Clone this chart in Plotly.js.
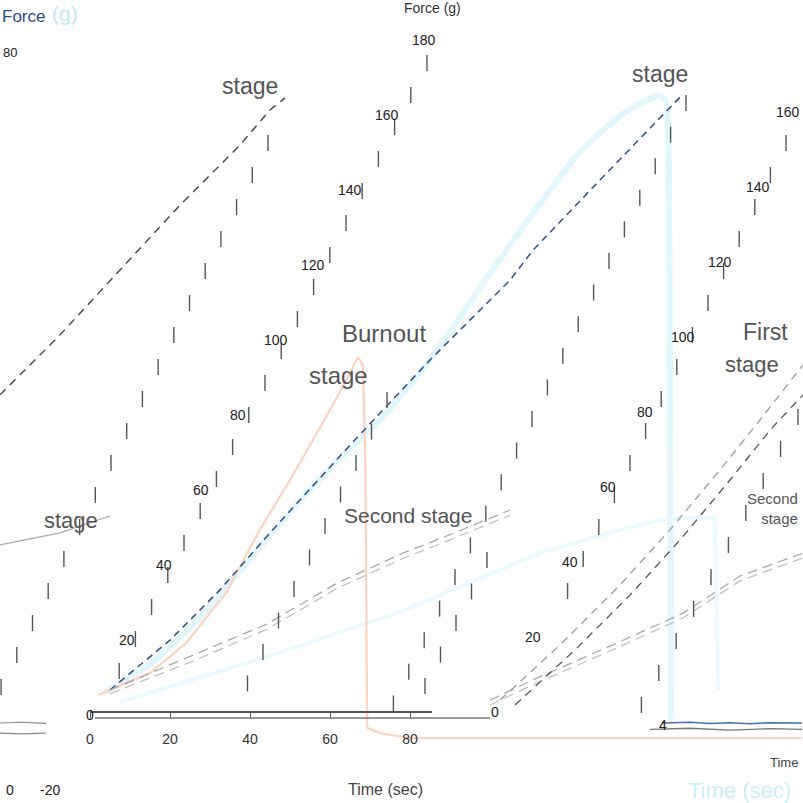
<!DOCTYPE html>
<html><head><meta charset="utf-8">
<script src="https://cdn.plot.ly/plotly-3.0.1.min.js"></script>
<style>html,body{margin:0;padding:0;background:#fff}#chart{width:803px;height:803px}</style>
</head><body><div id="chart"></div>
<script>
// ---- data (Time in sec, Force) ----
const burnoutTime  = [2, 5, 15, 24, 34, 42, 50, 57.5, 62.5, 67, 68.2, 68.8, 69, 69.3, 72.5, 80, 178];
const burnoutForce = [4.3, 5.6, 10.1, 18.1, 31.5, 47.5, 61.6, 75.5, 85.1, 94.4, 92.3, 69.6, 29.6, -4.5, -5.9, -7.2, -7.2];

const firstTime  = [3.75, 15, 27.5, 46.75, 60, 72.5, 85, 96.75, 111.25, 122.5, 132.5, 138.75, 142, 143.75, 144.5, 145, 145.25];
const firstForce = [5.1, 12.5, 24.8, 49.1, 64.8, 77.6, 93.6, 111.7, 133.6, 149.1, 158.7, 162.7, 164, 163.2, 156.3, 82.9, -2.4];

const firstDashTime  = [5, 20, 32.5, 45, 65, 85, 105, 110.75, 127.5, 140, 147.5];
const firstDashForce = [5.6, 18.9, 32.3, 47.5, 70.9, 93.6, 114.9, 122.9, 141.6, 155.5, 163.7];

const secondCyanTime  = [7.5, 45, 77.5, 112.5, 132.5, 145, 156.25, 157];
const secondCyanForce = [2.4, 14.7, 26.4, 42.1, 48.3, 51.5, 51.5, 5.6];

const secondATime  = [5, 13.25, 25.75, 44.25, 61.75, 78.25, 89.25, 105];
const secondAForce = [5.6, 9.3, 14.7, 23.2, 34.1, 42.1, 46.7, 53.6];
const secondBForce = [4.6, 8.0, 13.3, 21.8, 32.7, 40.7, 45.3, 52.2];

const secondRTime  = [100, 110.75, 130, 148.25, 162.5, 178.25];
const secondRForce = [2.9, 8.3, 17.3, 26.1, 36, 42.1];
const secondR2Force = [1.6, 7.0, 16.0, 24.8, 34.7, 40.8];

const burnRTime1  = [102.5, 117.5, 132.5, 145, 157.5, 167.5, 178.25];
const burnRForce1 = [2.9, 17.6, 33.6, 48.3, 64.3, 77.6, 92.3];
const burnRTime2  = [106.25, 121.25, 135, 147.5, 160, 170, 178.25];
const burnRForce2 = [1.6, 16.3, 30.9, 45.6, 61.6, 74.9, 84.3];

const upperTime  = [-22.5, -7.5, 7.5, 22.5, 37.5, 45, 48.75];
const upperForce = [84.3, 100.3, 117.6, 134.9, 150.9, 160.3, 163.5];

const leftTime  = [-22.5, -7.5, 5];
const leftForce = [44.3, 47.5, 52];

const blueTailTime  = [143, 150, 155, 160, 165, 170, 178];
const blueTailForce = [-3.2, -3.0, -3.3, -3.1, -3.4, -3.1, -3.2];
const grayTailTime  = [140, 150, 160, 170, 178];
const grayTailForce = [-4.9, -4.6, -5.1, -4.7, -4.9];
const leftTailTime  = [-22.5, -17, -11];
const leftTailForceA = [-3.2, -3.0, -3.3];
const leftTailForceB = [-5.9, -6.1, -5.9];

const timeTicks = [0, 20, 40, 60, 80];
const forceTickLabels = ['0','20','40','60','80','100','120','140','160','180'];
const forceTickLabels2 = ['0','20','40','60','80','100','120','140','160'];

// ---- layout helpers ----
const W = 803, H = 803;
const px = v => v / W, py = v => 1 - v / H;
function ann(text, x, y, size, color, anchor, extra) {
  return Object.assign({xref:'paper', yref:'paper', x:px(x), y:py(y), text:text, showarrow:false,
    xanchor:anchor||'center', yanchor:'middle',
    font:{family:'Liberation Sans, Arial, sans-serif', size:size, color:color}}, extra||{});
}

const traces = [
  {x:firstTime, y:firstForce, mode:'lines', line:{color:'#e2f7fd', width:6, shape:'spline', smoothing:0.6}},
  {x:secondCyanTime, y:secondCyanForce, mode:'lines', line:{color:'#eafafe', width:4}},
  {x:burnoutTime, y:burnoutForce, mode:'lines', line:{color:'#fdd2bf', width:2.2}},
  {x:firstDashTime, y:firstDashForce, mode:'lines', line:{color:'#2f4f8c', width:1.5, dash:'7px,5px'}},
  {x:secondATime, y:secondAForce, mode:'lines', line:{color:'#a8a8a8', width:1.3, dash:'10px,6px'}},
  {x:secondATime, y:secondBForce, mode:'lines', line:{color:'#bdbdbd', width:1.2, dash:'10px,6px'}},
  {x:secondRTime, y:secondRForce, mode:'lines', line:{color:'#a8a8a8', width:1.3, dash:'10px,6px'}},
  {x:secondRTime, y:secondR2Force, mode:'lines', line:{color:'#bdbdbd', width:1.2, dash:'10px,6px'}},
  {x:burnRTime1, y:burnRForce1, mode:'lines', line:{color:'#9a9a9a', width:1.3, dash:'8px,6px'}},
  {x:burnRTime2, y:burnRForce2, mode:'lines', line:{color:'#555', width:1.3, dash:'8px,6px'}},
  {x:upperTime, y:upperForce, mode:'lines', line:{color:'#444', width:1.4, dash:'8px,6px'}},
  {x:leftTime, y:leftForce, mode:'lines', line:{color:'#aaa', width:1.3}},
  {x:blueTailTime, y:blueTailForce, mode:'lines', line:{color:'#4a6fb0', width:1.5}},
  {x:grayTailTime, y:grayTailForce, mode:'lines', line:{color:'#777', width:1.3}},
  {x:leftTailTime, y:leftTailForceA, mode:'lines', line:{color:'#888', width:1.2}},
  {x:leftTailTime, y:leftTailForceB, mode:'lines', line:{color:'#888', width:1.2}},
  {x:[null], y:[null], xaxis:'x2', yaxis:'y2', mode:'lines', hoverinfo:'skip'}
].map(t => Object.assign({showlegend:false, hoverinfo:'skip'}, t));

// diagonal tick columns (decoration positions in pixels)
const tickCols = [
  {x:268, y:143, dx:-15.7, dy:32, n:18},
  {x:427, y:63, dx:-16.2, dy:32, n:20},
  {x:686, y:103, dx:-15.4, dy:31.6, n:20},
  {x:487, y:560, dx:-15.5, dy:31.5, n:5},
  {x:786, y:143, dx:-15.6, dy:32, n:15},
  {x:798, y:417, dx:-17.4, dy:32, n:10},
  {x:387, y:400, dx:-15.5, dy:31.5, n:10}
];
const shapes = [];
tickCols.forEach(c => {
  for (let k = 0; k < c.n; k++) {
    const x = c.x + c.dx * k, y = c.y + c.dy * k;
    shapes.push({type:'line', xref:'paper', yref:'paper', x0:px(x), x1:px(x), y0:py(y-8), y1:py(y+8),
      line:{color:'#555', width:1.4}});
  }
});
shapes.push({type:'line', xref:'paper', yref:'paper', x0:px(95), x1:px(490), y0:py(718), y1:py(718), line:{color:'#777', width:1.3}});

const annotations = [];
forceTickLabels.forEach((t, k) => annotations.push(ann(t, 90 + 37.1*k, 715 - 75*k, 14, '#222')));
forceTickLabels2.forEach((t, k) => annotations.push(ann(t, 495 + 37.5*k, 712 - 75*k, 14, '#222', k === 8 ? 'right' : 'center')));
// nudge the last right-column label inside the canvas
annotations[annotations.length - 1].x = px(802);
annotations.push(
  ann('Force', 0, 17, 17, '#2b4a8a', 'left'),
  ann('(g)', 50, 14, 21, '#bfeaf7', 'left'),
  ann('Force (g)', 432, 8, 14, '#333'),
  ann('80', 10, 52, 13, '#222'),
  ann('stage', 250, 86, 23, '#555'),
  ann('stage', 660, 74, 23, '#555'),
  ann('Burnout', 384, 333, 24, '#555'),
  ann('stage', 338, 375, 24, '#555'),
  ann('Second stage', 408, 515, 21, '#555'),
  ann('Second<br>stage', 800, 508, 15, '#555', 'right', {align:'right'}),
  ann('stage', 100, 520, 22, '#555', 'right'),
  ann('First', 741, 332, 23, '#555', 'left'),
  ann('stage', 752, 364, 22, '#555'),
  ann('4', 663, 725, 14, '#222'),
  ann('Time (sec)', 385, 789, 16, '#444'),
  ann('Time (sec)', 686, 790, 22, '#c9f0fb', 'left'),
  ann('Time', 768, 762, 13, '#444', 'left'),
  ann('-20', 50, 790, 14, '#222'),
  ann('0', 10, 790, 14, '#222')
);

const layout = {
  width: W, height: H,
  margin:{l:0, r:0, t:0, b:0},
  paper_bgcolor:'#fff', plot_bgcolor:'rgba(0,0,0,0)',
  xaxis:{range:[-22.5, 178.25], visible:false, domain:[0,1]},
  yaxis:{range:[(711-803)/3.75, 711/3.75], visible:false, domain:[0,1]},
  xaxis2:{domain:[90/W, 432/W], range:[0, 85.5], anchor:'y2', showline:true, linecolor:'#555', linewidth:1.5,
    ticks:'outside', ticklen:5, tickcolor:'#555', tickvals:timeTicks, showgrid:false, zeroline:false,
    ticklabelstandoff:10, tickfont:{family:'Liberation Sans, Arial, sans-serif', size:14, color:'#333'}},
  yaxis2:{domain:[(803-711)/H, 1], range:[0,1], visible:false, anchor:'x2'},
  shapes: shapes,
  annotations: annotations
};

Plotly.newPlot('chart', traces, layout, {staticPlot:true, displayModeBar:false});
</script>
</body></html>
